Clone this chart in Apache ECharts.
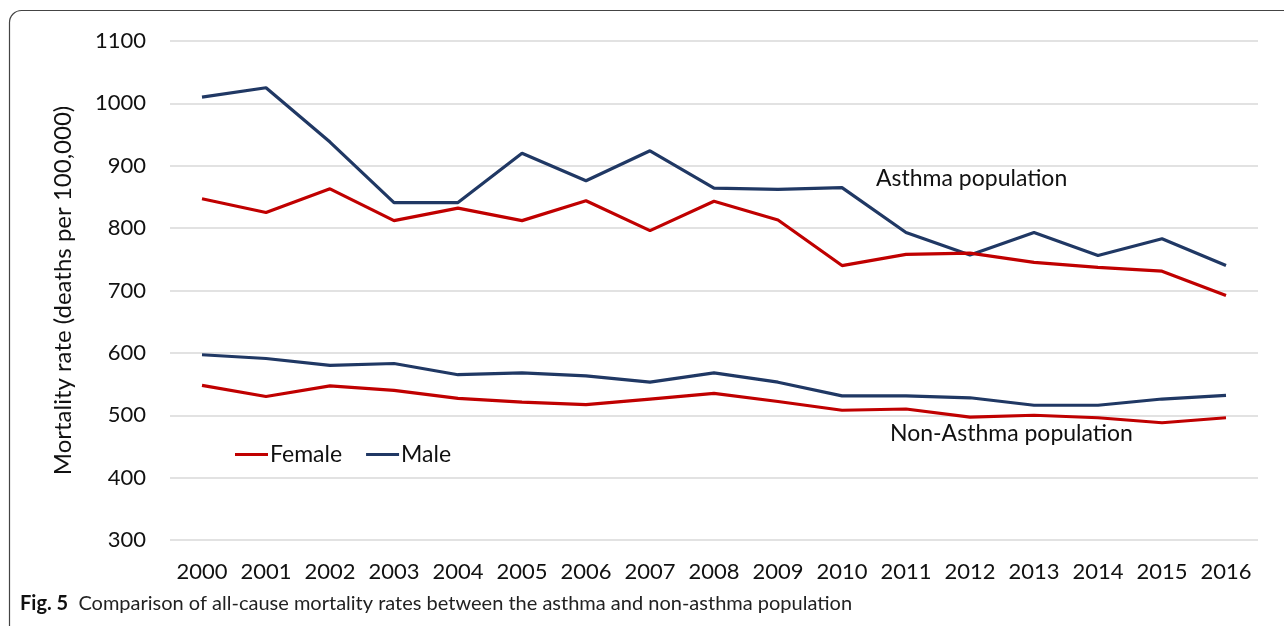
<!DOCTYPE html>
<html>
<head>
<meta charset="utf-8">
<script src="https://cdn.jsdelivr.net/npm/echarts@6/dist/echarts.min.js"></script>
<style>
html,body{margin:0;padding:0;background:#fff;}
#chart{width:1284px;height:626px;}
</style>
</head>
<body>
<div id="chart"></div>
<script>
const years = ['2000','2001','2002','2003','2004','2005','2006','2007','2008','2009','2010','2011','2012','2013','2014','2015','2016'];
const asthmaFemale = [847, 825, 863, 812, 832, 812, 844, 796, 843, 813, 740, 758, 760, 745, 737, 731, 692];
const asthmaMale = [1010, 1025, 938, 841, 841, 920, 876, 924, 864, 862, 865, 793, 757, 793, 756, 783, 740];
const nonAsthmaFemale = [548, 530, 547, 540, 527, 521, 517, 526, 535, 522, 508, 510, 497, 500, 496, 488, 496];
const nonAsthmaMale = [597, 591, 580, 583, 565, 568, 563, 553, 568, 553, 531, 531, 528, 516, 516, 526, 532];
const yTicks = {min: 300, max: 1100, interval: 100};

const RED = '#C00000';
const BLUE = '#203864';
const FONT = 'Lato';

const chart = echarts.init(document.getElementById('chart'));
function lineSeries(name, data, color) {
  return {
    name: name, type: 'line', data: data, symbol: 'none', smooth: false,
    lineStyle: {color: color, width: 3.2}, itemStyle: {color: color}, z: 3
  };
}
chart.setOption({
  animation: false,
  backgroundColor: '#fff',
  textStyle: {fontFamily: FONT},
  grid: {left: 170, right: 26, top: 41, bottom: 86, containLabel: false},
  legend: {
    data: ['Female', 'Male'],
    left: 230, top: 438,
    icon: 'rect',
    itemWidth: 33, itemHeight: 3, itemGap: 24,
    textStyle: {fontFamily: FONT, fontSize: 23, color: '#111', padding: [0,0,0,-3]}
  },
  xAxis: {
    type: 'category', data: years, boundaryGap: true,
    axisLine: {show: false}, axisTick: {show: false},
    axisLabel: {interval: 0, fontFamily: FONT, fontSize: 22, color: '#111', margin: 21, hideOverlap: false}
  },
  yAxis: {
    type: 'value', min: yTicks.min, max: yTicks.max, interval: yTicks.interval,
    name: 'Mortality rate (deaths per 100,000)', nameLocation: 'middle', nameGap: 95,
    nameTextStyle: {fontFamily: FONT, fontSize: 24, color: '#111'},
    axisLine: {show: false}, axisTick: {show: false},
    axisLabel: {fontFamily: FONT, fontSize: 22, color: '#111', margin: 24,
                formatter: function (v) { return String(v); }},
    splitLine: {lineStyle: {color: '#d9d9d9', width: 1.5}}
  },
  series: [
    lineSeries('Male', asthmaMale, BLUE),
    lineSeries('Female', asthmaFemale, RED),
    lineSeries('Male', nonAsthmaMale, BLUE),
    lineSeries('Female', nonAsthmaFemale, RED)
  ],
  graphic: [
    {type: 'rect', shape: {x: 9.5, y: 10.5, width: 1320, height: 680, r: 12},
     style: {fill: 'none', stroke: '#444', lineWidth: 1.2}, silent: true, z: -1},
    {type: 'text', left: 876, top: 167,
     style: {text: 'Asthma population', font: '23px ' + FONT, fill: '#111'}},
    {type: 'text', left: 890, top: 422,
     style: {text: 'Non-Asthma population', font: '23px ' + FONT, fill: '#111'}},
    {type: 'text', left: 20, top: 594,
     style: {
       text: '{b|Fig. 5}  Comparison of all-cause mortality rates between the asthma and non-asthma population',
       font: '20px ' + FONT, fill: '#222',
       rich: {b: {fontFamily: FONT, fontSize: 20, fontWeight: 'bold', fill: '#111', color: '#111'}}
     }}
  ]
});
</script>
</body>
</html>
